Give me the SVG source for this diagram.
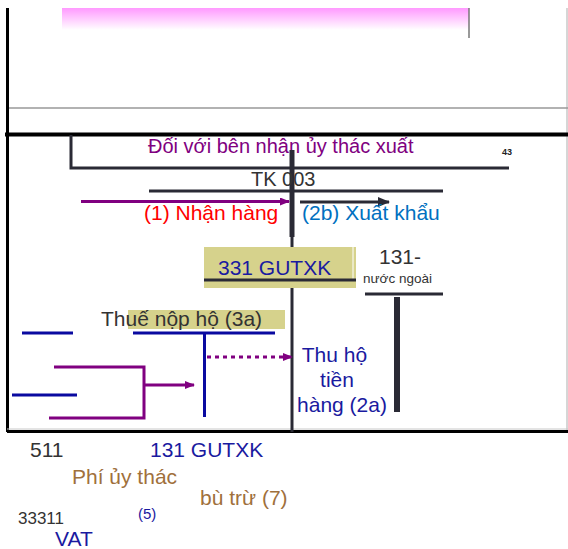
<svg xmlns="http://www.w3.org/2000/svg" width="568" height="549" viewBox="0 0 568 549">
<style>
text{font-family:"Liberation Sans",Arial,sans-serif;font-size:21px}
.dk{fill:#333333}
.nv{fill:#1a1aa0}
.br{fill:#a0703c}
.ln{stroke:#2a2a35;stroke-width:3;fill:none}
.bl{stroke:#0a0aa0;stroke-width:3;fill:none}
.pu{stroke:#800080;stroke-width:3;fill:none}
</style>
<defs>
<linearGradient id="pink" x1="0" y1="0" x2="0" y2="1">
<stop offset="0" stop-color="#ff99ff"/>
<stop offset="1" stop-color="#ffffff"/>
</linearGradient>
<marker id="ap" markerWidth="10" markerHeight="8" refX="9" refY="4" orient="auto" markerUnits="userSpaceOnUse">
<path d="M0,0 L10,4 L0,8 Z" fill="#800080"/>
</marker>
<marker id="ad" markerWidth="12" markerHeight="10" refX="11" refY="5" orient="auto" markerUnits="userSpaceOnUse">
<path d="M0,0 L12,5 L0,10 Z" fill="#2a2a35"/>
</marker>
</defs>
<g id="frame">
<rect x="62" y="8" width="407" height="22" fill="url(#pink)"/>
<line x1="469" y1="8" x2="469" y2="38" stroke="#777" stroke-width="1.5"/>
<line x1="567" y1="8" x2="567" y2="430" stroke="#c8c8c8" stroke-width="1.5"/>
<line x1="8" y1="108" x2="568" y2="108" stroke="#999" stroke-width="1.5"/>
<line x1="7.5" y1="8" x2="7.5" y2="432" stroke="#000" stroke-width="3"/>
<line x1="5" y1="134.5" x2="568" y2="134.5" stroke="#000" stroke-width="4"/>
<line x1="7" y1="431.5" x2="568" y2="431.5" stroke="#000" stroke-width="3"/>
<line x1="7" y1="429" x2="568" y2="429" stroke="#c8c8c8" stroke-width="1"/>
</g>
<g id="title">
<text x="148" y="153" style="font-size:20px" fill="#800080">Đối với bên nhận ủy thác xuất</text>
<text x="502" y="155" style="font-size:9px;font-weight:bold" fill="#222">43</text>
</g>
<g id="connectors">
<polyline class="ln" points="71,135 71,168 509,168"/>
<line class="ln" x1="149" y1="191" x2="443" y2="191"/>
<line x1="292" y1="150" x2="292" y2="237" stroke="#2a2a35" stroke-width="5"/>
<line class="ln" x1="292" y1="237" x2="292" y2="432"/>
<line class="pu" x1="81" y1="201.5" x2="289" y2="201.5" marker-end="url(#ap)"/>
<line class="ln" x1="300" y1="202" x2="389" y2="202" marker-end="url(#ad)"/>
<line class="ln" x1="365" y1="294" x2="443" y2="294"/>
<line x1="397" y1="297" x2="397" y2="412" stroke="#2a2a35" stroke-width="6"/>
<line class="bl" x1="22" y1="333" x2="73" y2="333"/>
<line class="bl" x1="133" y1="333" x2="275" y2="333"/>
<line class="bl" x1="204.5" y1="333" x2="204.5" y2="417"/>
<line class="bl" x1="12" y1="395" x2="77" y2="395"/>
<polyline class="pu" points="54,367 144,367 144,418 49,418"/>
<line class="pu" x1="144" y1="385" x2="194" y2="385" marker-end="url(#ap)"/>
<line class="pu" x1="207" y1="357" x2="292" y2="357" stroke-dasharray="4,4" marker-end="url(#ap)"/>
</g>
<g id="tk003">
<text x="251" y="186" style="font-size:20px" class="dk">TK 003</text>
</g>
<g id="lbl1">
<text x="144" y="220" fill="#ff0000">(1) Nhận hàng</text>
</g>
<g id="lbl2b">
<text x="302" y="220" fill="#0070c0">(2b) Xuất khẩu</text>
</g>
<g id="n331">
<rect x="204" y="247" width="152" height="41" fill="#d6d28c"/>
<line x1="353" y1="247" x2="353" y2="280" stroke="#fff" stroke-width="1"/>
<text x="218" y="275" class="nv">331 GUTXK</text>
<line class="ln" x1="204" y1="280" x2="356" y2="280" stroke="#111"/>
</g>
<g id="n131nn">
<text x="379" y="264" class="dk">131-</text>
<text x="363" y="283" style="font-size:13.5px" class="dk">nước ngoài</text>
</g>
<g id="lbl3a">
<rect x="128" y="310" width="157" height="19" fill="#d6d28c"/>
<text x="101" y="326" class="dk">Thuế nộp hộ (3a)</text>
</g>
<g id="lbl2a">
<text x="334.5" y="362" text-anchor="middle" class="nv">Thu hộ</text>
<text x="337" y="387" text-anchor="middle" class="nv">tiền</text>
<text x="342" y="412" text-anchor="middle" class="nv">hàng (2a)</text>
</g>
<g id="bottom">
<text x="30" y="457" class="dk">511</text>
<text x="150" y="457" class="nv">131 GUTXK</text>
<text x="72" y="484" class="br">Phí ủy thác</text>
<text x="200" y="505" class="br">bù trừ (7)</text>
<text x="18" y="524" style="font-size:17px" class="dk">33311</text>
<text x="138" y="519" style="font-size:15px" class="nv">(5)</text>
<text x="55" y="546" class="nv">VAT</text>
</g>
</svg>
